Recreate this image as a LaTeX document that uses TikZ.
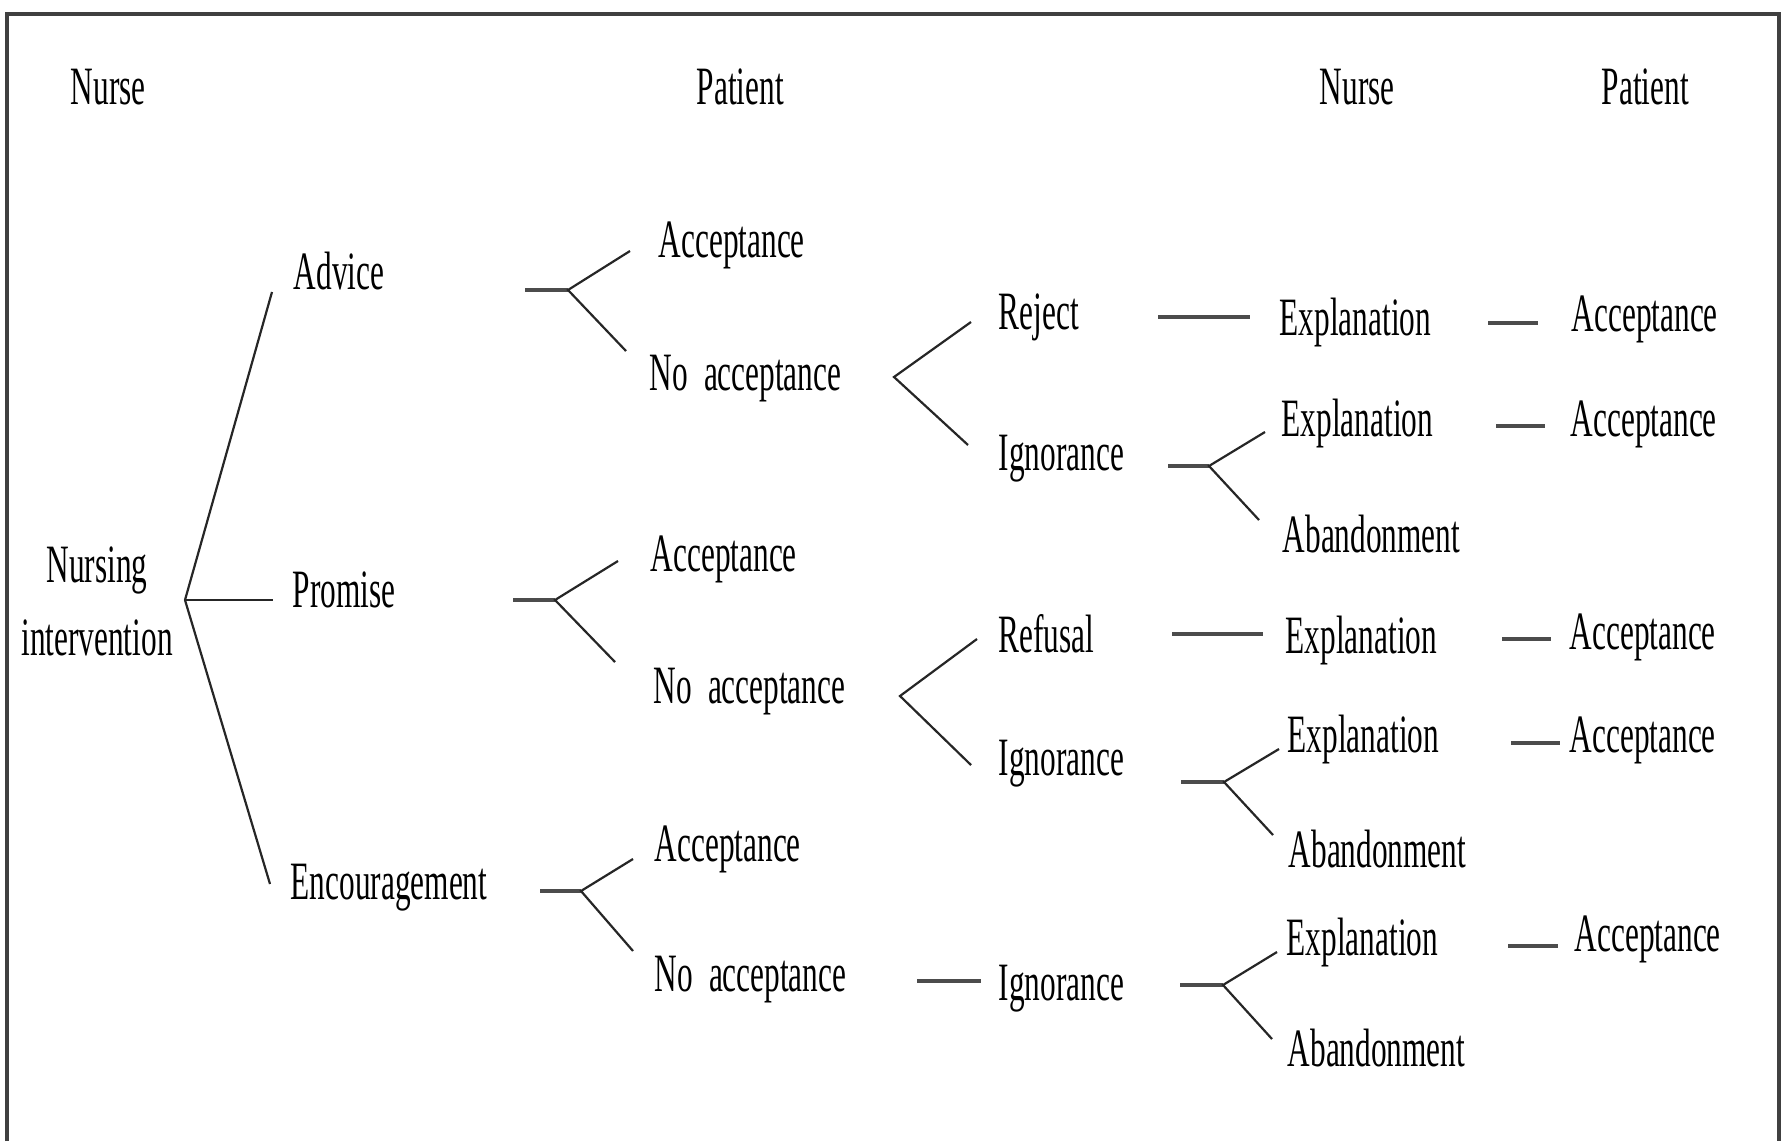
\documentclass[tikz,border=0pt]{standalone}
\usepackage{fontspec}
\setmainfont{Liberation Serif}[FakeStretch=0.58]
\tikzset{every picture/.style={line width=0.75pt}}
\tikzset{
  lbl/.style={anchor=base west, inner sep=0pt, font=\fontsize{27}{36.5}\selectfont},
  twig/.style={line width=1.1pt, draw=black!85},
  stub/.style={line width=1.6pt, draw=black!70},
  frame/.style={line width=2pt, draw=black!75}
}

\begin{document}
\begin{tikzpicture}[x=0.5pt,y=0.5pt,yscale=-1,xscale=1]
	\useasboundingbox (0,0) rectangle (1783,1141);
	
	%Frame (open at the bottom)
	\coordinate (frBL) at (7,1141);
	\coordinate (frTL) at (7,14);
	\coordinate (frTR) at (1779,14);
	\coordinate (frBR) at (1779,1141);
	\draw [frame] (frBL) -- (frTL) -- (frTR) -- (frBR);
	
	%Column heads
	\node (nurseL) at (70,104) [lbl] {Nurse};
	\node (patientL) at (696,104) [lbl] {Patient};
	\node (nurseR) at (1319,104) [lbl] {Nurse};
	\node (patientR) at (1601,104) [lbl] {Patient};
	
	%Nurse: interventions
	\node (nursing) at (97,601) [lbl, anchor=center, align=center] {Nursing\\intervention};
	\node (advice) at (293,289) [lbl] {Advice};
	\node (promise) at (292,607) [lbl] {Promise};
	\node (encour) at (290,899) [lbl] {Encouragement};
	
	%Patient: first answer
	\node (accA) at (658,257) [lbl] {Acceptance};
	\node (noaccA) at (649,390) [lbl] {No\hspace{8pt}acceptance};
	\node (accP) at (650,571) [lbl] {Acceptance};
	\node (noaccP) at (653,703) [lbl] {No\hspace{8pt}acceptance};
	\node (accE) at (654,861) [lbl] {Acceptance};
	\node (noaccE) at (654,991) [lbl] {No\hspace{8pt}acceptance};
	
	\node (reject) at (998,329) [lbl] {Reject};
	\node (ignA) at (998,470) [lbl] {Ignorance};
	\node (refusal) at (998,652) [lbl] {Refusal};
	\node (ignP) at (998,775) [lbl] {Ignorance};
	\node (ignE) at (998,1000) [lbl] {Ignorance};
	
	%Nurse: second step
	\node (expl1) at (1279,335) [lbl] {Explanation};
	\node (expl2) at (1281,436) [lbl] {Explanation};
	\node (aband1) at (1282,552) [lbl] {Abandonment};
	\node (expl3) at (1285,653) [lbl] {Explanation};
	\node (expl4) at (1287,752) [lbl] {Explanation};
	\node (aband2) at (1288,867) [lbl] {Abandonment};
	\node (expl5) at (1286,955) [lbl] {Explanation};
	\node (aband3) at (1287,1066) [lbl] {Abandonment};
	
	%Patient: final answer
	\node (acc1) at (1571,331) [lbl] {Acceptance};
	\node (acc2) at (1570,436) [lbl] {Acceptance};
	\node (acc3) at (1569,649) [lbl] {Acceptance};
	\node (acc4) at (1569,752) [lbl] {Acceptance};
	\node (acc5) at (1574,951) [lbl] {Acceptance};
	
	%Fork: root
	\coordinate (rootV) at (185,600);
	\coordinate (rootA) at (272,292);
	\coordinate (rootP) at (273,600);
	\coordinate (rootE) at (270,884);
	\draw [twig] (rootA) -- (rootV) -- (rootE);
	\draw [twig] (rootV) -- (rootP);
	
	%Fork: advice
	\coordinate (advS) at (525,290);
	\coordinate (advV) at (568,290);
	\coordinate (advU) at (630,251);
	\coordinate (advD) at (626,351);
	\draw [stub] (advS) -- (advV);
	\draw [twig] (advU) -- (advV) -- (advD);
	
	%Fork: promise
	\coordinate (proS) at (513,600);
	\coordinate (proV) at (555,600);
	\coordinate (proU) at (618,561);
	\coordinate (proD) at (615,662);
	\draw [stub] (proS) -- (proV);
	\draw [twig] (proU) -- (proV) -- (proD);
	
	%Fork: encouragement
	\coordinate (encS) at (540,891);
	\coordinate (encV) at (581,891);
	\coordinate (encU) at (633,859);
	\coordinate (encD) at (633,951);
	\draw [stub] (encS) -- (encV);
	\draw [twig] (encU) -- (encV) -- (encD);
	
	%Fork: no acceptance (advice)
	\coordinate (na1V) at (894,377);
	\coordinate (na1U) at (971,322);
	\coordinate (na1D) at (968,445);
	\draw [twig] (na1U) -- (na1V) -- (na1D);
	
	%Fork: no acceptance (promise)
	\coordinate (na2V) at (900,696);
	\coordinate (na2U) at (977,639);
	\coordinate (na2D) at (971,765);
	\draw [twig] (na2U) -- (na2V) -- (na2D);
	
	%Stub: no acceptance (encouragement)
	\coordinate (na3S) at (917,981);
	\coordinate (na3E) at (981,981);
	\draw [stub] (na3S) -- (na3E);
	
	%Stubs: reject, refusal
	\coordinate (rejS) at (1158,317);
	\coordinate (rejE) at (1250,317);
	\draw [stub] (rejS) -- (rejE);
	\coordinate (refS) at (1172,634);
	\coordinate (refE) at (1263,634);
	\draw [stub] (refS) -- (refE);
	
	%Forks: ignorance
	\coordinate (ig1S) at (1168,466);
	\coordinate (ig1V) at (1209,466);
	\coordinate (ig1U) at (1265,432);
	\coordinate (ig1D) at (1259,520);
	\draw [stub] (ig1S) -- (ig1V);
	\draw [twig] (ig1U) -- (ig1V) -- (ig1D);
	
	\coordinate (ig2S) at (1181,782);
	\coordinate (ig2V) at (1224,782);
	\coordinate (ig2U) at (1279,749);
	\coordinate (ig2D) at (1273,835);
	\draw [stub] (ig2S) -- (ig2V);
	\draw [twig] (ig2U) -- (ig2V) -- (ig2D);
	
	\coordinate (ig3S) at (1180,985);
	\coordinate (ig3V) at (1223,985);
	\coordinate (ig3U) at (1277,952);
	\coordinate (ig3D) at (1272,1039);
	\draw [stub] (ig3S) -- (ig3V);
	\draw [twig] (ig3U) -- (ig3V) -- (ig3D);
	
	%Stubs: explanation to acceptance
	\coordinate (r1S) at (1488,323);
	\coordinate (r1E) at (1538,323);
	\draw [stub] (r1S) -- (r1E);
	\coordinate (r2S) at (1496,426);
	\coordinate (r2E) at (1545,426);
	\draw [stub] (r2S) -- (r2E);
	\coordinate (r3S) at (1502,639);
	\coordinate (r3E) at (1551,639);
	\draw [stub] (r3S) -- (r3E);
	\coordinate (r4S) at (1511,743);
	\coordinate (r4E) at (1560,743);
	\draw [stub] (r4S) -- (r4E);
	\coordinate (r5S) at (1508,946);
	\coordinate (r5E) at (1558,946);
	\draw [stub] (r5S) -- (r5E);
	
\end{tikzpicture}
\end{document}
